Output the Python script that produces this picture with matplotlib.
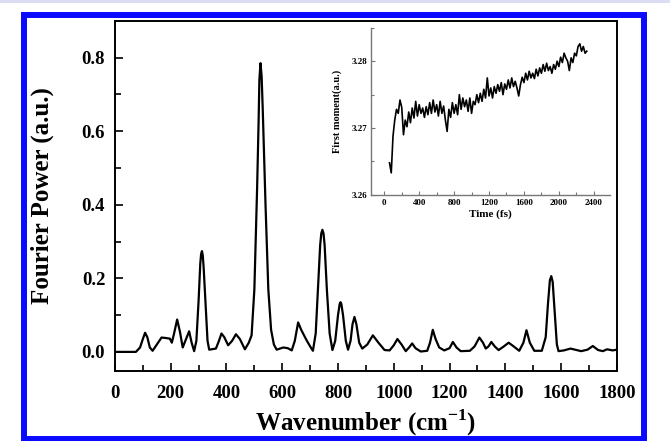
import matplotlib
matplotlib.use("Agg")
import matplotlib.pyplot as plt
from matplotlib.patches import Rectangle
from matplotlib.ticker import MultipleLocator
import numpy as np

# Fourier power spectrum
wavenumber = [0, 40, 75, 90, 100, 108, 116, 125, 135, 150, 167, 180, 197, 204, 212, 223,
              233, 243, 255, 266, 275, 284, 292, 300, 306, 309, 312, 315, 318, 325, 332, 338, 362,
              372, 382, 392, 406, 420, 434, 448, 466, 480, 490, 500, 510, 515, 518, 522, 526, 530,
              540, 550, 560, 570, 580, 604, 620, 634, 645, 657, 668, 687, 700, 710, 720,
              728, 736, 740, 744, 748, 752, 760, 770, 780, 790, 800, 806, 809, 812, 818, 828, 836,
              845, 852, 859, 866, 876, 887, 905, 925, 945, 967, 985, 1000, 1013, 1028, 1043, 1055,
              1066, 1078, 1097, 1120, 1130, 1140, 1150, 1163, 1181, 1200, 1212, 1225, 1240,
              1273, 1290, 1307, 1320, 1330, 1340, 1350, 1362, 1376, 1395, 1412, 1430, 1450,
              1465, 1476, 1488, 1504, 1531, 1545, 1553, 1560, 1565, 1570, 1577, 1585, 1591,
              1610, 1634, 1650, 1672, 1695, 1714, 1733, 1750, 1765, 1785, 1800]
power = [0.0, 0.0, 0.0, 0.012, 0.035, 0.052, 0.04, 0.012, 0.003, 0.02, 0.039, 0.038, 0.036,
         0.025, 0.05, 0.088, 0.055, 0.012, 0.035, 0.056, 0.025, 0.002, 0.03, 0.14, 0.24, 0.266,
         0.274, 0.262, 0.23, 0.13, 0.03, 0.006, 0.009, 0.028, 0.05, 0.04, 0.018, 0.03, 0.048,
         0.035, 0.007, 0.025, 0.045, 0.17, 0.45, 0.62, 0.74, 0.785, 0.75, 0.66, 0.40, 0.17, 0.06,
         0.02, 0.006, 0.012, 0.01, 0.004, 0.03, 0.08, 0.06, 0.032, 0.015, 0.003, 0.05,
         0.17, 0.29, 0.322, 0.332, 0.322, 0.29, 0.17, 0.05, 0.005, 0.03, 0.10, 0.13, 0.135, 0.13,
         0.10, 0.03, 0.006, 0.03, 0.075, 0.095, 0.075, 0.025, 0.009, 0.02, 0.045, 0.025, 0.005,
         0.004, 0.018, 0.035, 0.02, 0.002, 0.012, 0.023, 0.01, 0.001, 0.003, 0.025, 0.06, 0.035,
         0.012, 0.004, 0.01, 0.027, 0.012, 0.002, 0.003, 0.015, 0.039, 0.025, 0.009, 0.015, 0.027,
         0.015, 0.005, 0.015, 0.025, 0.015, 0.003, 0.025, 0.059, 0.025, 0.003, 0.003, 0.04,
         0.13, 0.195, 0.206, 0.19, 0.11, 0.02, 0.002, 0.004, 0.009, 0.006, 0.002, 0.006,
         0.016, 0.005, 0.002, 0.007, 0.004, 0.006]

# inset: first moment vs time
time_fs = list(range(60, 2321, 20))
first_moment = [3.2648, 3.2633, 3.2688, 3.2712, 3.2728, 3.2722, 3.2742, 3.2731, 3.2690, 3.2712,
                3.2702, 3.2724, 3.2708, 3.2730, 3.2715, 3.2740, 3.2718, 3.2735, 3.2722, 3.2730,
                3.2716, 3.2732, 3.2720, 3.2738, 3.2722, 3.2742, 3.2724, 3.2735, 3.2718, 3.2740,
                3.2722, 3.2733, 3.2712, 3.2695, 3.2728, 3.2716, 3.2738, 3.2722, 3.2735, 3.2720,
                3.2750, 3.2728, 3.2745, 3.2732, 3.2742, 3.2725, 3.2745, 3.2722, 3.2740, 3.2735,
                3.2750, 3.2738, 3.2752, 3.2740, 3.2758, 3.2745, 3.2775, 3.2748, 3.2760, 3.2745,
                3.2762, 3.2752, 3.2765, 3.2755, 3.2768, 3.2750, 3.2766, 3.2758, 3.2772, 3.2760,
                3.2775, 3.2762, 3.2770, 3.2760, 3.2748, 3.2765, 3.2776, 3.2768, 3.2782, 3.2772,
                3.2785, 3.2775, 3.2782, 3.2774, 3.2788, 3.2778, 3.2790, 3.2782, 3.2795, 3.2785,
                3.2797, 3.2786, 3.2792, 3.2782, 3.2795, 3.2788, 3.2800, 3.2792, 3.2806, 3.2798,
                3.2812, 3.2805, 3.2800, 3.2786, 3.2805, 3.2798, 3.2812, 3.2808, 3.2822, 3.2826,
                3.2815, 3.2822, 3.2812, 3.2815]

plt.rcParams['font.family'] = ['Liberation Serif', 'DejaVu Serif']
plt.rcParams['font.weight'] = 'bold'
plt.rcParams['mathtext.fontset'] = 'custom'
plt.rcParams['mathtext.rm'] = 'Liberation Serif:bold'
plt.rcParams['mathtext.bf'] = 'Liberation Serif:bold'

fig = plt.figure(figsize=(6.7, 4.41), dpi=100)

# pale strip along the top edge and blue frame around the figure
fig.patches.append(Rectangle((0, 438 / 441), 1, 3 / 441, transform=fig.transFigure,
                             facecolor='#dcdcf2', edgecolor='none'))
fig.patches.append(Rectangle((23.5 / 670, 2 / 441), 620.5 / 670, 424 / 441,
                             transform=fig.transFigure, fill=False,
                             edgecolor='#0a0aff', linewidth=4.3))

ax = fig.add_axes([0.1716, 0.1587, 0.749, 0.794])
ax.plot(wavenumber, power, color='black', linewidth=1.6)
ax.set_xlim(0, 1800)
ax.set_ylim(-0.052, 0.90)
ax.xaxis.set_major_locator(MultipleLocator(200))
ax.xaxis.set_minor_locator(MultipleLocator(100))
ax.yaxis.set_major_locator(MultipleLocator(0.2))
ax.yaxis.set_minor_locator(MultipleLocator(0.1))
ax.yaxis.set_major_formatter(plt.FormatStrFormatter('%.1f'))
ax.tick_params(which='both', direction='in', top=False, right=False, width=1.2)
ax.tick_params(which='major', length=6, labelsize=13.5)
ax.tick_params(axis='x', which='major', pad=10)
ax.tick_params(axis='y', which='major', pad=7)
ax.tick_params(which='minor', length=4)
for s in ax.spines.values():
    s.set_linewidth(1.4)
ax.set_xlabel(r'Wavenumber (cm$^{\mathbf{-1}}$)', fontsize=18, fontweight='bold', labelpad=4)
ax.set_ylabel('Fourier Power (a.u.)', fontsize=18, fontweight='bold', labelpad=20)

ins = fig.add_axes([0.554, 0.558, 0.357, 0.379])
ins.plot(time_fs, first_moment, color='black', linewidth=1.2)
ins.set_xlim(-150, 2590)
ins.set_ylim(3.26, 3.285)
ins.xaxis.set_major_locator(MultipleLocator(400))
ins.xaxis.set_minor_locator(MultipleLocator(200))
ins.yaxis.set_major_locator(MultipleLocator(0.01))
ins.yaxis.set_minor_locator(MultipleLocator(0.005))
ins.yaxis.set_major_formatter(plt.FormatStrFormatter('%.2f'))
ins.spines['top'].set_visible(False)
ins.spines['right'].set_visible(False)
for s in ('left', 'bottom'):
    ins.spines[s].set_color('#777777')
    ins.spines[s].set_linewidth(1.0)
ins.tick_params(which='both', direction='in', color='#777777', width=0.8)
ins.tick_params(which='major', length=3, labelsize=6.5, pad=3)
ins.tick_params(which='minor', length=2)
ins.set_xlabel('Time (fs)', fontsize=8, fontweight='bold', labelpad=2)
ins.set_ylabel('First moment(a.u.)', fontsize=7.5, fontweight='bold', labelpad=7)

plt.savefig('out.png', dpi=100)
